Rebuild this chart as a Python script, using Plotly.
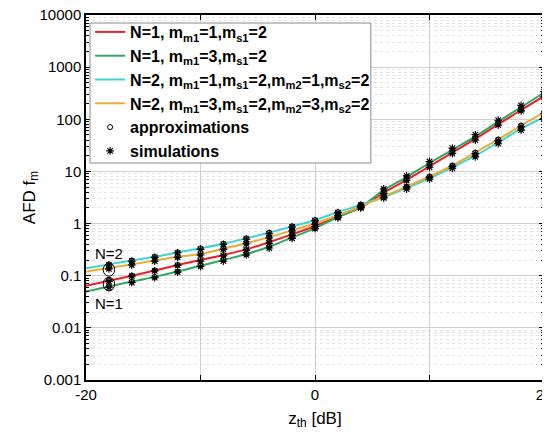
import math
import plotly.graph_objects as go

# ---- data ----
z_line = [-20, -18, -16, -14, -12, -10, -8, -6, -4, -2, 0, 2, 4, 6, 8, 10, 12, 14, 16, 18, 20]
afd_n1_m1 = [0.064, 0.08, 0.10, 0.126, 0.16, 0.20, 0.25, 0.32, 0.44, 0.62, 0.90, 1.35, 2.05, 3.9, 6.9, 12.5, 23, 42, 80, 150, 280]
afd_n1_m3 = [0.050, 0.062, 0.077, 0.095, 0.12, 0.155, 0.20, 0.26, 0.36, 0.54, 0.82, 1.33, 2.1, 4.4, 7.8, 14.5, 26, 47, 90, 170, 325]
afd_n2_m1 = [0.139, 0.165, 0.195, 0.23, 0.28, 0.335, 0.41, 0.52, 0.67, 0.88, 1.17, 1.66, 2.3, 3.2, 4.8, 7.4, 12, 20, 36, 66, 110]
afd_n2_m3 = [0.12, 0.14, 0.165, 0.195, 0.23, 0.26, 0.33, 0.42, 0.55, 0.74, 1.0, 1.45, 2.15, 3.3, 5.1, 8.0, 13, 23, 41, 76, 135]

z_pts = [-18, -16, -14, -12, -10, -8, -6, -4, -2, 0, 2, 4, 6, 8, 10, 12, 14, 16, 18, 20]
approx_n1_m1 = [0.08, 0.10, 0.126, 0.16, 0.20, 0.25, 0.32, 0.44, 0.62, 0.90, 1.35, 2.05, 3.9, 6.9, 12.5, 23, 42, 80, 150, 280]
approx_n1_m3 = [0.062, 0.077, 0.095, 0.12, 0.155, 0.20, 0.26, 0.36, 0.54, 0.82, 1.33, 2.1, 4.4, 7.8, 14.5, 26, 47, 90, 170, 325]
approx_n2_m1 = [0.165, 0.195, 0.23, 0.28, 0.335, 0.41, 0.52, 0.67, 0.88, 1.17, 1.66, 2.3, 3.2, 4.8, 7.4, 12, 20, 36, 66, 110]
approx_n2_m3 = [0.14, 0.165, 0.195, 0.23, 0.26, 0.33, 0.42, 0.55, 0.74, 1.0, 1.45, 2.15, 3.3, 5.1, 8.0, 13, 23, 41, 76, 135]
sim_n1_m1 = [0.078, 0.098, 0.124, 0.158, 0.19, 0.24, 0.31, 0.42, 0.60, 0.88, 1.32, 2.0, 3.8, 6.7, 12.0, 22, 40, 77, 145, 270]
sim_n1_m3 = [0.060, 0.074, 0.092, 0.117, 0.15, 0.19, 0.25, 0.34, 0.52, 0.80, 1.30, 2.05, 4.6, 8.2, 15.5, 28, 51, 96, 185, 340]
sim_n2_m1 = [0.16, 0.19, 0.225, 0.275, 0.32, 0.40, 0.50, 0.64, 0.86, 1.14, 1.62, 2.25, 3.1, 4.6, 7.1, 11.5, 19, 34, 62, 104]
sim_n2_m3 = [0.135, 0.16, 0.19, 0.225, 0.25, 0.32, 0.41, 0.53, 0.72, 0.97, 1.42, 2.1, 3.2, 5.0, 7.7, 12.5, 22, 39, 72, 128]

x_tickvals = [-20, -10, 0, 10, 20]
x_ticktext = ["-20", "", "0", "", "20"]
y_tickvals = [0.001, 0.01, 0.1, 1, 10, 100, 1000, 10000]
y_ticktext = ["0.001", "0.01", "0.1", "1", "10", "100", "1000", "10000"]

names = [
    "<b>N=1, m<sub>m1</sub>=1,m<sub>s1</sub>=2</b>",
    "<b>N=1, m<sub>m1</sub>=3,m<sub>s1</sub>=2</b>",
    "<b>N=2, m<sub>m1</sub>=1,m<sub>s1</sub>=2,m<sub>m2</sub>=1,m<sub>s2</sub>=2</b>",
    "<b>N=2, m<sub>m1</sub>=3,m<sub>s1</sub>=2,m<sub>m2</sub>=3,m<sub>s2</sub>=2</b>",
]
colors = ["#ee2026", "#31a862", "#3fd3d6", "#e8ad34"]
lines = [afd_n1_m1, afd_n1_m3, afd_n2_m1, afd_n2_m3]
approxs = [approx_n1_m1, approx_n1_m3, approx_n2_m1, approx_n2_m3]
sims = [sim_n1_m1, sim_n1_m3, sim_n2_m1, sim_n2_m3]

FONT = "Liberation Sans, Arial, sans-serif"

fig = go.Figure()
for nm, c, ys in zip(names, colors, lines):
    fig.add_trace(go.Scatter(x=z_line, y=ys, mode="lines", name=nm,
                             line=dict(color=c, width=2, shape="spline")))
for i, ys in enumerate(approxs):
    fig.add_trace(go.Scatter(x=z_pts, y=ys, mode="markers", name="<b>approximations</b>",
                             legendgroup="approx", showlegend=(i == 0),
                             marker=dict(symbol="circle-open", size=5, color="black",
                                         line=dict(width=1, color="black"))))
for i, ys in enumerate(sims):
    fig.add_trace(go.Scatter(x=z_pts, y=ys, mode="markers", name="<b>simulations</b>",
                             legendgroup="sim", showlegend=(i == 0),
                             marker=dict(symbol="asterisk-open", size=6.5, color="black",
                                         line=dict(width=1.1, color="black"))))

# legend frame
fig.add_shape(type="rect", xref="paper", yref="paper", x0=0.0087, x1=0.622,
              y0=0.5945, y1=0.978, layer="above",
              fillcolor="white", line=dict(color="#8a8a8a", width=1))

# ellipses marking the groups at z = -18 dB
fig.add_shape(type="circle", xref="x", yref="y", x0=-18.5, x1=-17.5,
              y0=10 ** -1.01, y1=10 ** -0.76, line=dict(color="black", width=1))
fig.add_shape(type="circle", xref="x", yref="y", x0=-18.5, x1=-17.5,
              y0=10 ** -1.29, y1=10 ** -1.03, line=dict(color="black", width=1))
fig.add_annotation(x=-18, y=math.log10(0.27), text="N=2", showarrow=False,
                   font=dict(size=15, color="black", family=FONT))
fig.add_annotation(x=-18, y=math.log10(0.029), text="N=1", showarrow=False,
                   font=dict(size=15, color="black", family=FONT))

fig.update_layout(
    width=550, height=436,
    margin=dict(l=78, r=14, t=7, b=64),
    paper_bgcolor="white", plot_bgcolor="white",
    font=dict(family=FONT, size=15, color="black"),
    showlegend=True,
    legend=dict(x=0.009, y=1.0, xanchor="left", yanchor="top",
                bgcolor="rgba(0,0,0,0)", bordercolor="rgba(0,0,0,0)", borderwidth=0,
                font=dict(size=16, color="black", family=FONT),
                tracegroupgap=0, itemwidth=30),
)
fig.update_xaxes(
    range=[-20, 20], tickvals=x_tickvals, ticktext=x_ticktext,
    ticks="inside", ticklen=5, tickcolor="black",
    showline=True, linecolor="black", linewidth=1.5, mirror="ticks",
    showgrid=True, gridcolor="#d0d0d0", gridwidth=1, zeroline=False,
    title=dict(text="z<sub>th</sub> [dB]", font=dict(size=17), standoff=10),
    tickfont=dict(size=15), automargin=False, ticklabeloverflow="allow",
)
fig.update_yaxes(
    type="log", range=[-3, 4], tickvals=y_tickvals, ticktext=y_ticktext,
    ticks="inside", ticklen=5, tickcolor="black",
    showline=True, linecolor="black", linewidth=1.5, mirror="ticks",
    showgrid=True, gridcolor="#d0d0d0", gridwidth=1, zeroline=False,
    minor=dict(dtick="D1", ticks="inside", ticklen=3, tickcolor="black",
               showgrid=True, gridcolor="#e4e4e4", griddash="dot"),
    title=dict(text="AFD f<sub>m</sub>", font=dict(size=17), standoff=0),
    tickfont=dict(size=15), automargin=False, ticklabeloverflow="allow",
)

fig.write_html("out.html")
